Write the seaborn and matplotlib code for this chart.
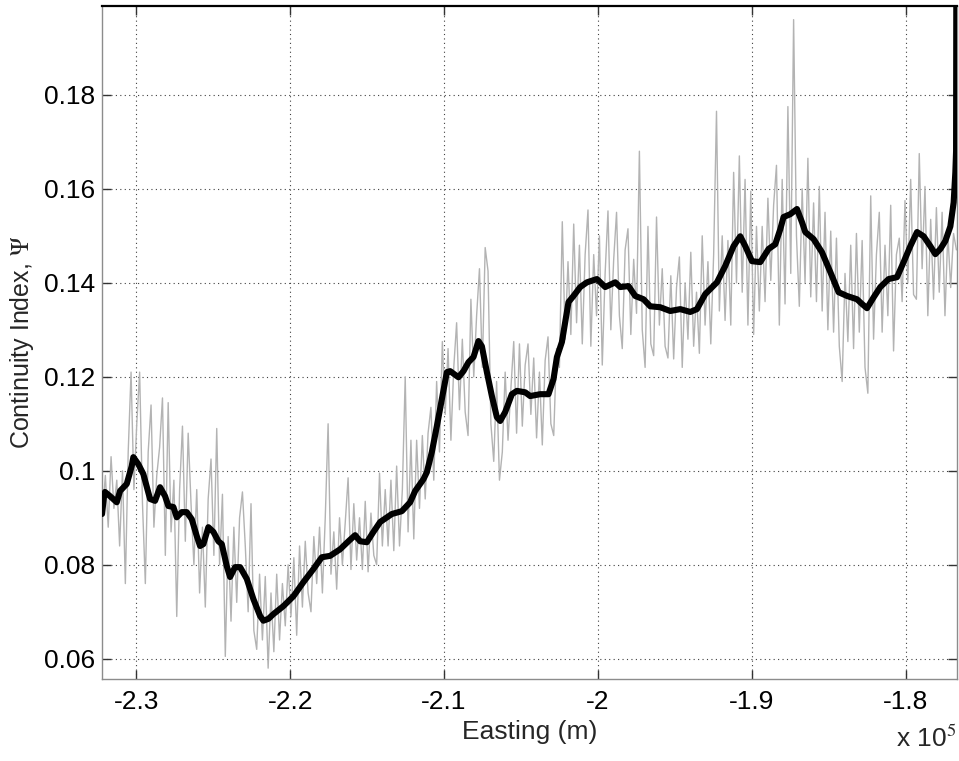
import numpy as np
import pandas as pd
import matplotlib
matplotlib.use("Agg")
import matplotlib.pyplot as plt
import seaborn as sns

# Smoothed continuity index along the profile (easting in m)
smooth_easting = [
    -232230, -232100, -232040, -231710, -231274, -231060, -230624, -230300,
    -230195, -229870, -229545, -229109, -228784, -228460, -228134, -227919,
    -227594, -227373, -227048, -226723, -226398, -226073, -225858, -225644,
    -225319, -224993, -224668, -224447, -224122, -223908, -223583, -223257,
    -222822, -222393, -221957, -221742, -221417, -221092, -220442, -219792,
    -219142, -218491, -217945, -217406, -216755, -216216, -215780, -215455,
    -215019, -214590, -214154, -213394, -212744, -212204, -211879, -211339,
    -211118, -210793, -210468, -210143, -209818, -209603, -209063, -208738,
    -208413, -208088, -207763, -207542, -207217, -206892, -206567, -206352,
    -206027, -205591, -205266, -204726, -204401, -203751, -203211, -202886,
    -202665, -202340, -202125, -201911, -201586, -201150, -200714, -200064,
    -199525, -198874, -198549, -198010, -197574, -197034, -196599, -195949,
    -195299, -194648, -193998, -193563, -193023, -192262, -191723, -191183,
    -190748, -190422, -189987, -189447, -188907, -188472, -188147, -187932,
    -187497, -187061, -186736, -186522, -185982, -185436, -184896, -184356,
    -183810, -183160, -182835, -182510, -182081, -181645, -181105, -180559,
    -180130, -179694, -179259, -178829, -178393, -178068, -177743, -177418,
    -177093, -176878, -176768, -176720, -176700,
]
smooth_psi = [
    0.0908, 0.0946, 0.0955, 0.0946, 0.0933, 0.0957, 0.0972, 0.1010,
    0.1029, 0.1014, 0.0993, 0.0940, 0.0936, 0.0965, 0.0946, 0.0925,
    0.0923, 0.0901, 0.0912, 0.0912, 0.0897, 0.0861, 0.0840, 0.0844,
    0.0880, 0.0870, 0.0850, 0.0844, 0.0797, 0.0774, 0.0795, 0.0795,
    0.0770, 0.0727, 0.0691, 0.0681, 0.0685, 0.0695, 0.0712, 0.0733,
    0.0763, 0.0791, 0.0816, 0.0819, 0.0833, 0.0850, 0.0863, 0.0850,
    0.0848, 0.0870, 0.0891, 0.0908, 0.0914, 0.0933, 0.0957, 0.0982,
    0.0997, 0.1040, 0.1095, 0.1153, 0.1210, 0.1212, 0.1199, 0.1212,
    0.1231, 0.1242, 0.1276, 0.1265, 0.1210, 0.1159, 0.1114, 0.1106,
    0.1125, 0.1163, 0.1170, 0.1167, 0.1159, 0.1163, 0.1163, 0.1195,
    0.1242, 0.1274, 0.1316, 0.1359, 0.1372, 0.1391, 0.1401, 0.1408,
    0.1391, 0.1401, 0.1391, 0.1393, 0.1372, 0.1365, 0.1350, 0.1348,
    0.1340, 0.1344, 0.1338, 0.1344, 0.1376, 0.1401, 0.1436, 0.1478,
    0.1499, 0.1478, 0.1446, 0.1444, 0.1472, 0.1482, 0.1514, 0.1540,
    0.1546, 0.1557, 0.1529, 0.1508, 0.1493, 0.1465, 0.1423, 0.1380,
    0.1372, 0.1365, 0.1355, 0.1346, 0.1369, 0.1391, 0.1408, 0.1412,
    0.1444, 0.1478, 0.1508, 0.1499, 0.1478, 0.1461, 0.1472, 0.1489,
    0.1520, 0.1571, 0.1635, 0.1680, 0.2150,
]

# Raw continuity index, evenly sampled along the same profile
raw_start, raw_end = -232200, -176700
raw_psi = [
    0.091, 0.099, 0.088, 0.103, 0.092, 0.098, 0.084, 0.100, 0.076, 0.104,
    0.121, 0.096, 0.110, 0.121, 0.093, 0.076, 0.104, 0.114, 0.088, 0.099,
    0.105, 0.1155, 0.082, 0.1145, 0.087, 0.098, 0.069, 0.096, 0.1095, 0.085,
    0.108, 0.093, 0.080, 0.096, 0.074, 0.088, 0.071, 0.094, 0.1025, 0.082,
    0.109, 0.080, 0.095, 0.0605, 0.086, 0.068, 0.088, 0.072, 0.090, 0.0955,
    0.084, 0.070, 0.093, 0.066, 0.062, 0.078, 0.064, 0.0775, 0.058, 0.074,
    0.0615, 0.078, 0.064, 0.076, 0.067, 0.080, 0.069, 0.0815, 0.065, 0.084,
    0.071, 0.085, 0.074, 0.070, 0.086, 0.076, 0.088, 0.074, 0.090, 0.110,
    0.078, 0.087, 0.0748, 0.090, 0.080, 0.089, 0.0985, 0.079, 0.093, 0.081,
    0.090, 0.079, 0.0935, 0.0785, 0.091, 0.082, 0.080, 0.0995, 0.084, 0.096,
    0.084, 0.098, 0.083, 0.101, 0.084, 0.096, 0.120, 0.087, 0.1065, 0.0855,
    0.1065, 0.092, 0.1075, 0.094, 0.108, 0.1135, 0.098, 0.119, 0.104, 0.1275,
    0.112, 0.126, 0.1065, 0.122, 0.1315, 0.113, 0.128, 0.1125, 0.1075, 0.1365,
    0.120, 0.133, 0.143, 0.122, 0.1475, 0.1425, 0.110, 0.102, 0.119, 0.098,
    0.104, 0.121, 0.1065, 0.1175, 0.1275, 0.108, 0.127, 0.1095, 0.1225, 0.127,
    0.112, 0.124, 0.107, 0.121, 0.1055, 0.1235, 0.1285, 0.110, 0.1075, 0.126,
    0.122, 0.153, 0.128, 0.1445, 0.129, 0.1525, 0.1315, 0.148, 0.127, 0.146,
    0.1555, 0.1265, 0.146, 0.133, 0.150, 0.1225, 0.142, 0.1553, 0.130, 0.145,
    0.155, 0.133, 0.126, 0.147, 0.1515, 0.129, 0.145, 0.1335, 0.168, 0.130,
    0.122, 0.152, 0.127, 0.1245, 0.154, 0.131, 0.143, 0.1265, 0.124, 0.1415,
    0.1238, 0.139, 0.1455, 0.122, 0.140, 0.128, 0.1465, 0.1265, 0.138, 0.125,
    0.150, 0.131, 0.1445, 0.127, 0.146, 0.1765, 0.134, 0.150, 0.132, 0.149,
    0.131, 0.1635, 0.140, 0.167, 0.138, 0.162, 0.131, 0.1595, 0.129, 0.152,
    0.134, 0.152, 0.136, 0.158, 0.1405, 0.1565, 0.165, 0.131, 0.162, 0.1355,
    0.1775, 0.142, 0.196, 0.150, 0.135, 0.160, 0.140, 0.1665, 0.137, 0.157,
    0.136, 0.1605, 0.134, 0.155, 0.130, 0.151, 0.1295, 0.1495, 0.1265, 0.119,
    0.142, 0.1275, 0.148, 0.126, 0.1505, 0.1295, 0.149, 0.122, 0.1165, 0.1585,
    0.128, 0.146, 0.155, 0.1295, 0.148, 0.133, 0.1565, 0.1255, 0.146, 0.1495,
    0.136, 0.1575, 0.140, 0.162, 0.1375, 0.1365, 0.1675, 0.143, 0.1605, 0.133,
    0.1535, 0.1365, 0.156, 0.138, 0.155, 0.133, 0.1505, 0.139, 0.1505, 0.147,
]

x_ticks = [-230000, -220000, -210000, -200000, -190000, -180000]
y_ticks = [0.06, 0.08, 0.10, 0.12, 0.14, 0.16, 0.18]

raw = pd.DataFrame({
    "easting": np.linspace(raw_start, raw_end, len(raw_psi)),
    "psi": raw_psi,
})
smooth = pd.DataFrame({"easting": smooth_easting, "psi": smooth_psi})

sns.set_theme(style="white")
plt.rcParams["font.family"] = ["Liberation Sans", "DejaVu Sans"]
plt.rcParams["mathtext.fontset"] = "stix"
plt.rcParams["axes.unicode_minus"] = False

fig = plt.figure(figsize=(9.59, 7.61), dpi=100)
ax = fig.add_axes([0.1064, 0.1078, 0.8912, 0.8843])

sns.lineplot(data=raw, x="easting", y="psi", ax=ax, color="#b3b3b3",
             linewidth=1.0, estimator=None, sort=False, zorder=2)
sns.lineplot(data=smooth, x="easting", y="psi", ax=ax, color="black",
             linewidth=4.4, estimator=None, sort=False, zorder=3,
             solid_joinstyle="round", solid_capstyle="round")

ax.set_xlim(-232230, -176680)
ax.set_ylim(0.0557, 0.1989)
ax.set_xticks(x_ticks)
ax.set_xticklabels([f"{v / 1e5:g}" for v in x_ticks])
ax.set_yticks(y_ticks)
ax.set_yticklabels([f"{v:g}" for v in y_ticks])

ax.grid(True, linestyle=(0, (1, 3)), color="0.25", linewidth=0.8)
ax.set_axisbelow(True)
ax.tick_params(direction="in", length=6.5, width=1, colors="0.2",
               labelsize=19, labelcolor="black", top=True, right=True,
               bottom=True, left=True)
ax.tick_params(axis="x", pad=8)
ax.tick_params(axis="y", pad=5)

for side in ["left", "bottom", "right"]:
    ax.spines[side].set_color("0.55")
    ax.spines[side].set_linewidth(1.0)
ax.spines["top"].set_color("black")
ax.spines["top"].set_linewidth(1.6)

ax.set_xlabel("Easting (m)", fontsize=19, labelpad=4)
ax.set_ylabel(r"Continuity Index, $\Psi$", fontsize=18, labelpad=6)

fig.text(0.9975, 0.012, r"x 10$^{5}$", fontsize=19, ha="right", va="bottom")

fig.savefig("out.png", dpi=100)
